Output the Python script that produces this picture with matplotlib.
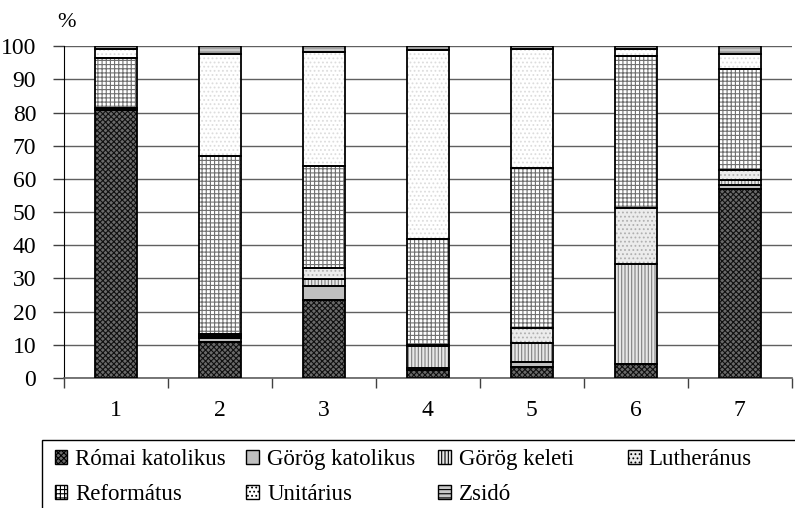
import matplotlib.pyplot as plt
import numpy as np

plt.rcParams['font.family'] = ['Liberation Serif', 'DejaVu Serif']
plt.rcParams['hatch.linewidth'] = 0.8

categories = ['1', '2', '3', '4', '5', '6', '7']
series = ['Római katolikus', 'Görög katolikus', 'Görög keleti', 'Lutheránus',
          'Református', 'Unitárius', 'Zsidó']
romai_kat = [80.7, 10.9, 23.5, 2.5, 3.4, 4.2, 57.1]
gorog_kat = [0.3, 1.0, 4.2, 0.4, 1.5, 0.1, 1.0]
gorog_kel = [0.1, 0.7, 2.0, 6.7, 5.5, 30.0, 1.5]
lutheranus = [0.2, 0.8, 3.5, 0.3, 4.6, 17.0, 3.1]
reformatus = [15.2, 53.6, 30.8, 31.9, 48.4, 45.7, 30.3]
unitarius = [2.8, 30.8, 34.3, 57.0, 35.9, 2.3, 4.6]
zsido = [0.7, 2.2, 1.7, 1.2, 0.7, 0.7, 2.4]
values = [romai_kat, gorog_kat, gorog_kel, lutheranus, reformatus, unitarius, zsido]

# (facecolor, hatch, hatch colour)
styles = [('#6a6a6a', 'xxxxxx', '#101010'),
          ('#c0c0c0', None, '#c0c0c0'),
          ('#e8e8e8', '|||||', '#808080'),
          ('#ececec', '....', '#b0b0b0'),
          ('white', '++++', '#707070'),
          ('white', '....', '#dddddd'),
          ('#c8c8c8', '----', '#808080')]

fig = plt.figure(figsize=(7.95, 5.08), dpi=100)
ax = fig.add_axes([0.0805, 0.256, 0.9155, 0.653])

x = np.arange(len(categories))
w = 0.41
bottom = np.zeros(len(categories))
handles = []
for name, vals, (fc, h, hc) in zip(series, values, styles):
    vals = np.array(vals)
    ax.bar(x, vals, w, bottom=bottom, color=fc, hatch=h, edgecolor=hc,
           linewidth=0, zorder=2)
    ax.bar(x, vals, w, bottom=bottom, fill=False, edgecolor='black',
           linewidth=1.3, zorder=3)
    bottom += vals
    hdl = plt.Rectangle((0, 0), 1, 1, facecolor=fc, hatch=h, edgecolor='black',
                        linewidth=1.0)
    handles.append(hdl)

ax.set_xlim(-0.5, len(categories) - 0.5)
ax.set_ylim(0, 100)
ax.set_yticks(np.arange(0, 101, 10))
ax.yaxis.grid(True, color='#606060', linewidth=1.0, zorder=0)
ax.set_axisbelow(True)
ax.set_xticks(x)
ax.set_xticklabels(categories)
ax.set_xticks(np.arange(-0.5, len(categories), 1), minor=True)
ax.tick_params(axis='x', which='major', length=0, pad=16, labelsize=17)
ax.tick_params(axis='x', which='minor', length=7, width=1, color='#404040')
ax.tick_params(axis='y', length=8, width=1, color='#404040', pad=12, labelsize=17)
for s in ['top', 'right']:
    ax.spines[s].set_visible(False)
ax.spines['left'].set_color('black')
ax.spines['bottom'].set_color('#606060')
ax.spines['bottom'].set_linewidth(1.2)

fig.text(0.072, 0.955, '%', fontsize=16, ha='left', va='center')

# legend: four equal-width columns, row-major like the original
columns = [[0, 4], [1, 5], [2, 6], [3]]
col_x = [0.069, 0.310, 0.551, 0.790]
for cx, idx in zip(col_x, columns):
    leg = fig.legend([handles[i] for i in idx], [series[i] for i in idx],
                     loc='upper left', bbox_to_anchor=(cx, 0.116),
                     fontsize=16.5, frameon=False, borderpad=0, borderaxespad=0,
                     handlelength=0.55, handleheight=0.55, handletextpad=0.35,
                     labelspacing=0.6)
frame = plt.Rectangle((0.053, -0.02), 0.96, 0.154, transform=fig.transFigure,
                      fill=False, edgecolor='black', linewidth=1.0)
fig.patches.append(frame)

fig.savefig('out.png', dpi=100)
